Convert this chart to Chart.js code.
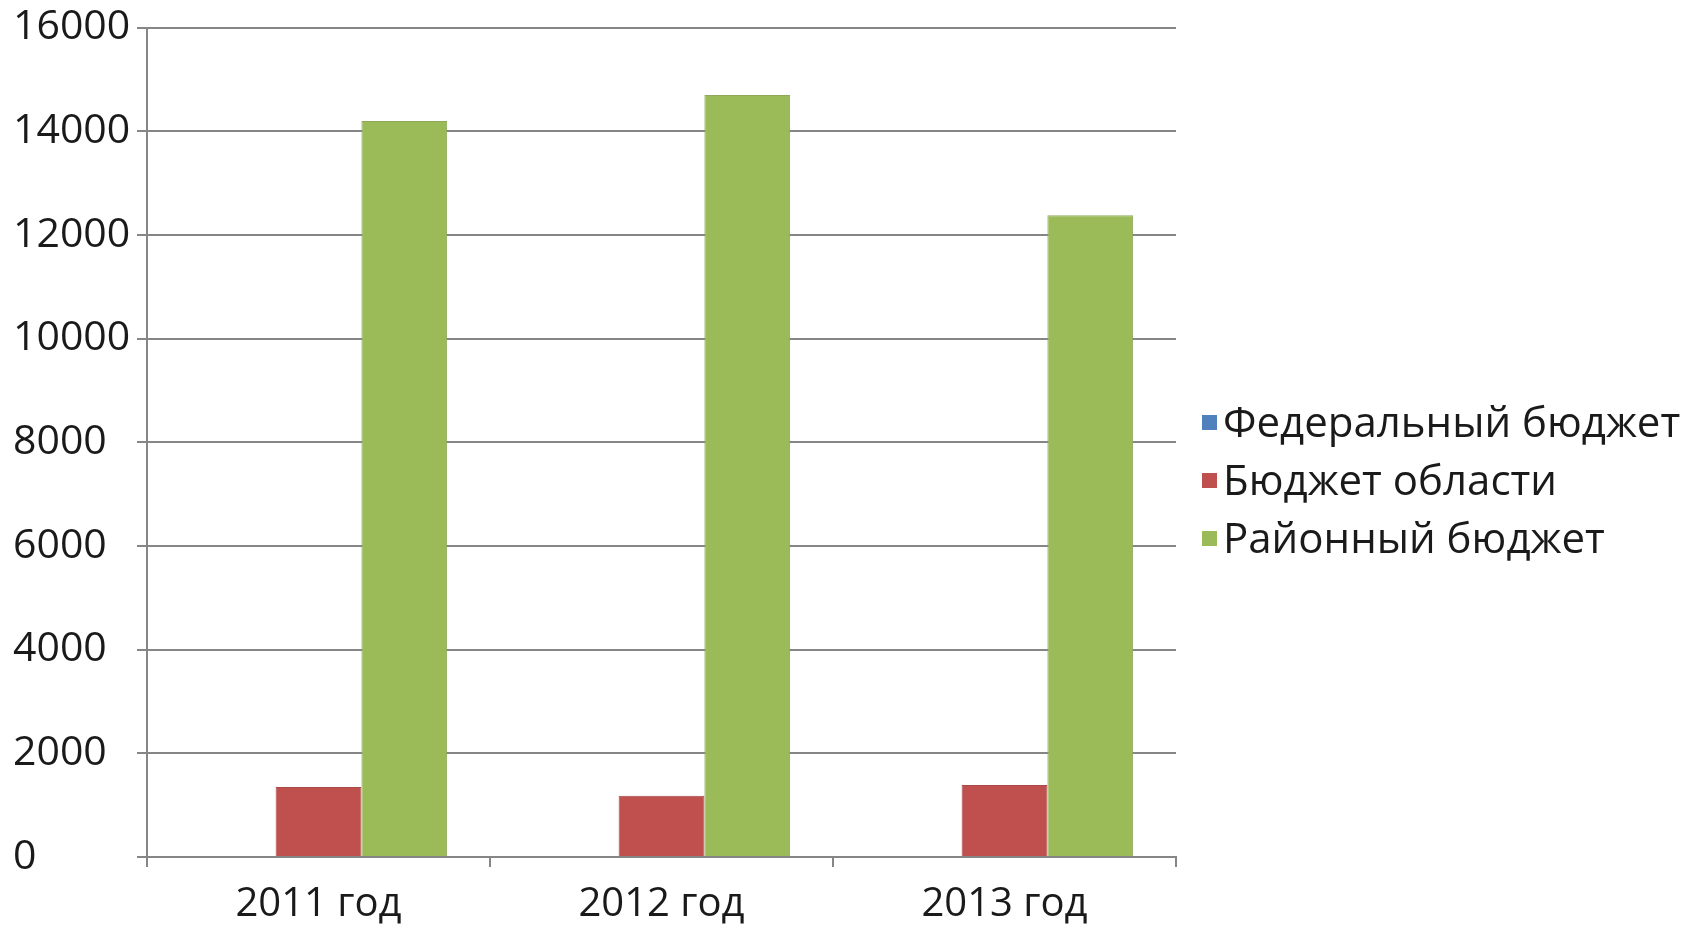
<!DOCTYPE html>
<html lang="ru">
<head>
<meta charset="utf-8">
<title>Бюджет</title>
<script src="https://cdn.jsdelivr.net/npm/chart.js@4"></script>
<style>
  html, body { margin: 0; padding: 0; background: #fff; }
  #wrap { position: relative; width: 1707px; height: 929px; }
  #legend {
    position: absolute; left: 1202px; top: 392px;
    font-family: "Open Sans", sans-serif; font-size: 42px; color: #1a1a1a;
  }
  #legend div { height: 58px; line-height: 58px; white-space: nowrap; }
  #legend span.box {
    display: inline-block; width: 15px; height: 15px; margin-right: 6px;
    vertical-align: middle; position: relative; top: -3px;
  }
</style>
</head>
<body>
<div id="wrap">
  <canvas id="chart" width="1707" height="929"></canvas>
  <div id="legend"></div>
</div>
<script>
const years = ["2011 год", "2012 год", "2013 год"];
const seriesNames = ["Федеральный бюджет", "Бюджет области", "Районный бюджет"];
const federal = [0, 0, 0];
const oblast = [1350, 1180, 1390];
const rayon = [14200, 14700, 12380];
const colors = ["#4F81BD", "#C0504D", "#9BBB59"];
const borders = ["#4a76ad", "#a94a47", "#8fa95a"];

const ctx = document.getElementById("chart").getContext("2d");
const values = [federal, oblast, rayon];

new Chart(ctx, {
  type: "bar",
  data: {
    labels: years,
    datasets: seriesNames.map((name, i) => ({
      label: name,
      data: values[i],
      backgroundColor: colors[i],
      borderColor: borders[i],
      borderWidth: 1
    }))
  },
  options: {
    responsive: false,
    animation: false,
    layout: { padding: { top: 27, right: 531, left: 13, bottom: 0 } },
    datasets: { bar: { categoryPercentage: 0.75, barPercentage: 1 } },
    plugins: {
      legend: { display: false },
      tooltip: { enabled: false }
    },
    scales: {
      x: {
        grid: { drawOnChartArea: false, drawTicks: true, tickLength: 10, color: "#868686", lineWidth: 2 },
        border: { color: "#868686", width: 2 },
        ticks: { color: "#1a1a1a", font: { family: "Open Sans", size: 40 }, padding: 14 },
        afterFit: (scale) => { scale.height = 72; }
      },
      y: {
        min: 0, max: 16000,
        ticks: {
          stepSize: 2000, color: "#1a1a1a", font: { family: "Open Sans", size: 41 },
          crossAlign: "far",
          callback: (v) => String(v)
        },
        grid: { color: "#868686", lineWidth: 2, tickLength: 10 },
        border: { color: "#868686", width: 2 },
        afterFit: (scale) => { scale.width = 134; }
      }
    }
  }
});

const legend = document.getElementById("legend");
seriesNames.forEach((name, i) => {
  const row = document.createElement("div");
  const box = document.createElement("span");
  box.className = "box";
  box.style.background = colors[i];
  row.appendChild(box);
  row.appendChild(document.createTextNode(name));
  legend.appendChild(row);
});
</script>
</body>
</html>
